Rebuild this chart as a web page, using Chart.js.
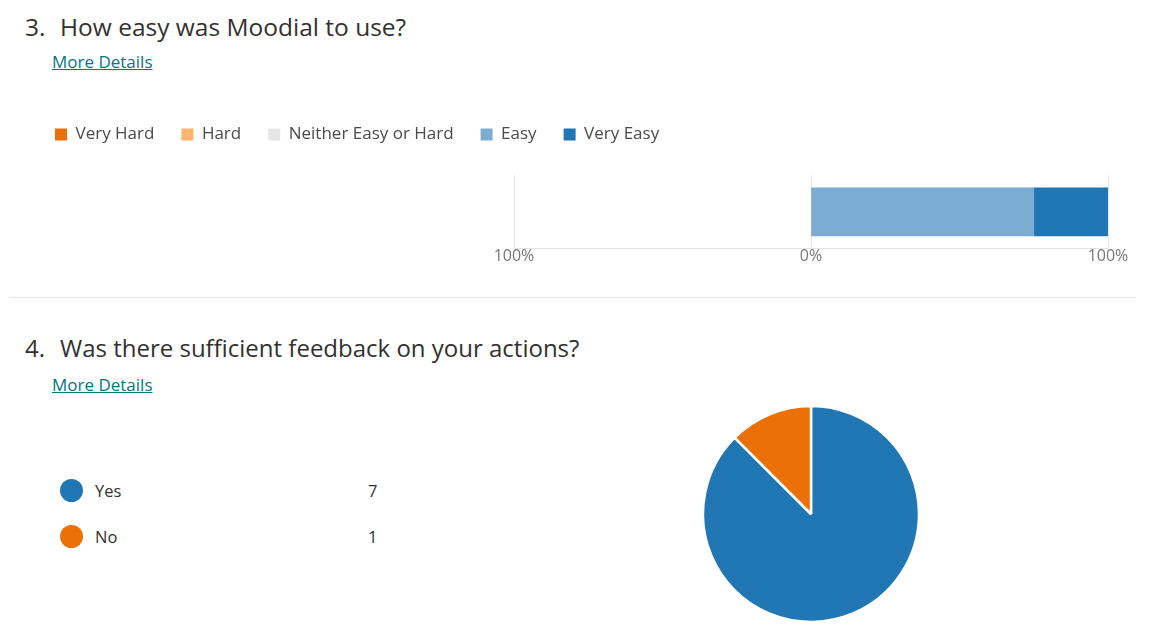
<!DOCTYPE html>
<html>
<head>
<meta charset="utf-8">
<script src="https://cdn.jsdelivr.net/npm/chart.js@4.4.1/dist/chart.umd.min.js"></script>
<style>
  html, body { margin:0; padding:0; background:#fff; }
  body { width:1157px; height:640px; position:relative; overflow:hidden; font-family:"Open Sans", "Noto Sans", sans-serif; color:#323130; }
  .title { position:absolute; left:25px; line-height:32px; white-space:nowrap; color:#323130; }
  .title .num { display:inline-block; width:35px; }
  .more { position:absolute; left:52px; font-size:17px; line-height:22px; color:#03787c; text-decoration:underline; white-space:nowrap; }
  .sep { position:absolute; left:10px; width:1125px; top:297px; height:1px; background:#e6e6e6; }
  #barWrap { position:absolute; left:0; top:99px; width:1157px; height:175px; }
  #pieWrap { position:absolute; left:701px; top:404px; width:220px; height:220px; }
  .pl { position:absolute; left:60px; height:24px; width:340px; font-size:16.5px; color:#323130; }
  .pl .dot { position:absolute; left:0; top:0; width:23px; height:23px; border-radius:50%; }
  .pl .lab { position:absolute; left:35px; top:0; line-height:23px; }
  .pl .cnt { position:absolute; left:308px; top:0; line-height:23px; }
</style>
</head>
<body>
<div class="title" style="top:11px;font-size:24.5px"><span class="num">3.</span>How easy was Moodial to use?</div>
<div class="more" style="top:51px">More Details</div>
<div id="barWrap"><canvas id="bar"></canvas></div>
<div class="sep"></div>
<div class="title" style="top:332px;font-size:24px"><span class="num">4.</span>Was there sufficient feedback on your actions?</div>
<div class="more" style="top:374px">More Details</div>
<div id="pieLegend"></div>
<div id="pieWrap"><canvas id="pie"></canvas></div>
<script>
// ---- Question 3 data (response counts) ----
const q3Categories = ['Very Hard', 'Hard', 'Neither Easy or Hard', 'Easy', 'Very Easy'];
const q3Counts = [0, 0, 0, 6, 2];
const q3Colors = ['#ec7008', '#fdb26e', '#e6e6e6', '#7badd3', '#2077b4'];
const q3Side = [-1, -1, 1, 1, 1]; // negative side for "hard" answers
const q3Ticks = [-100, 0, 100];

// ---- Question 4 data ----
const q4Labels = ['Yes', 'No'];
const q4Values = [7, 1];
const q4Colors = ['#2077b4', '#ec7008'];

const q3Total = q3Counts.reduce((a, b) => a + b, 0);
const q3Datasets = q3Categories.map((c, i) => ({
  label: c,
  data: [q3Counts[i] ? q3Side[i] * q3Counts[i] / q3Total * 100 : null],
  backgroundColor: q3Colors[i],
  borderWidth: 0,
  barThickness: 48
}));

const legendSpacer = {
  id: 'legendSpacer',
  beforeInit(chart) {
    const origFit = chart.legend.fit;
    chart.legend.fit = function () { origFit.bind(chart.legend)(); this.height += 22; };
  }
};

const fam = '"Open Sans", "Noto Sans", sans-serif';

new Chart(document.getElementById('bar'), {
  type: 'bar',
  data: { labels: [''], datasets: q3Datasets },
  options: {
    indexAxis: 'y',
    responsive: true,
    maintainAspectRatio: false,
    animation: false,
    layout: { padding: { left: 28, right: 49, top: 0, bottom: 10 } },
    plugins: {
      tooltip: { enabled: false },
      legend: {
        position: 'top',
        align: 'start',
        labels: {
          boxWidth: 12, boxHeight: 12, padding: 27,
          color: '#4a4a4a',
          font: { family: fam, size: 17 }
        }
      }
    },
    scales: {
      x: {
        stacked: true,
        min: -100, max: 100,
        afterBuildTicks(scale) { scale.ticks = q3Ticks.map(v => ({ value: v })); },
        ticks: {
          padding: -2,
          color: '#777',
          font: { family: fam, size: 16, lineHeight: 1.2 },
          callback: v => Math.abs(v) + '%'
        },
        grid: { color: '#e3e3e3', drawTicks: false, lineWidth: 1 },
        border: { display: true, color: '#e3e3e3' }
      },
      y: {
        stacked: true,
        grid: { display: false },
        border: { display: false },
        ticks: { display: false },
        afterFit(scale) { scale.width = 486; }
      }
    }
  },
  plugins: [legendSpacer]
});

// Pie legend (from arrays)
const pl = document.getElementById('pieLegend');
q4Labels.forEach((l, i) => {
  const d = document.createElement('div');
  d.className = 'pl';
  d.style.top = (479 + i * 46) + 'px';
  d.innerHTML = '<span class="dot" style="background:' + q4Colors[i] + '"></span><span class="lab">' + l + '</span><span class="cnt">' + q4Values[i] + '</span>';
  pl.appendChild(d);
});

new Chart(document.getElementById('pie'), {
  type: 'pie',
  data: {
    labels: q4Labels,
    datasets: [{ data: q4Values, backgroundColor: q4Colors, borderColor: '#ffffff', borderWidth: 2.5 }]
  },
  options: {
    responsive: true,
    maintainAspectRatio: false,
    animation: false,
    layout: { padding: 0 },
    radius: 108,
    plugins: { legend: { display: false }, tooltip: { enabled: false } }
  }
});
</script>
</body>
</html>
